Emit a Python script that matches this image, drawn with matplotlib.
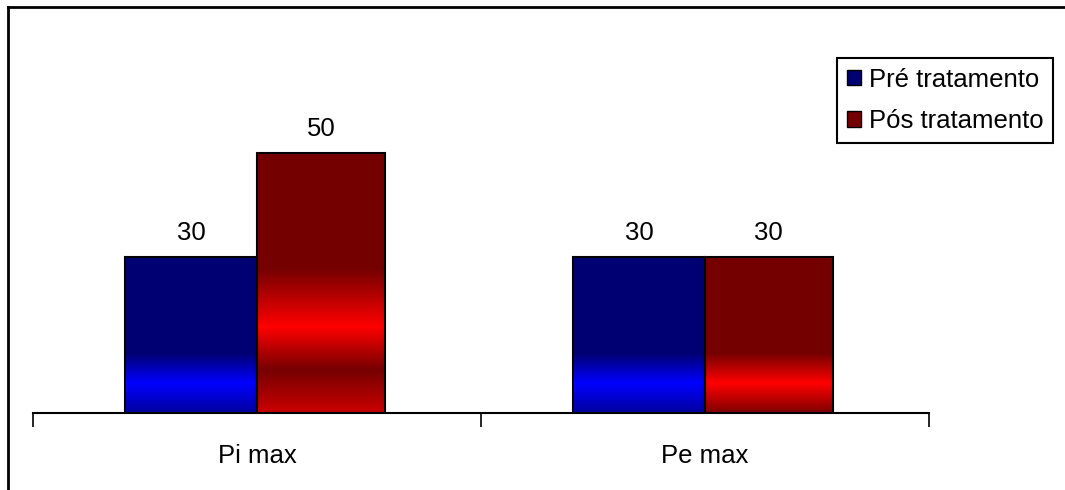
import matplotlib
matplotlib.use("Agg")
import matplotlib.pyplot as plt
import numpy as np
from matplotlib.colors import LinearSegmentedColormap
from matplotlib.patches import Patch
from matplotlib.lines import Line2D

categories = ["Pi max", "Pe max"]
pre_values = [30, 30]
pos_values = [50, 30]
series_names = ["Pré tratamento", "Pós tratamento"]

plt.rcParams['font.family'] = ['Liberation Sans', 'DejaVu Sans']
FS = 18.5

W, H = 1065, 490
fig = plt.figure(figsize=(W / 100, H / 100), dpi=100)
ax_left, ax_right, ax_bottom, ax_top = 33, 929, 413, 101
ax = fig.add_axes([ax_left / W, 1 - ax_bottom / H, (ax_right - ax_left) / W, (ax_bottom - ax_top) / H])
ax.set_xlim(-0.5, len(categories) - 0.5)
ax.set_ylim(0, 60)

dark_blue = (0, 0, 0.45)
bright_blue = (0, 0, 1.0)
dark_red = (0.46, 0, 0)
bright_red = (1.0, 0, 0)

# gradient stops (fraction from top of bar) per series / category
stops = {
    (0, 0): [(0, dark_blue), (0.62, dark_blue), (0.81, bright_blue), (1.0, (0, 0, 0.62))],
    (0, 1): [(0, dark_blue), (0.62, dark_blue), (0.81, bright_blue), (1.0, (0, 0, 0.62))],
    (1, 0): [(0, dark_red), (0.45, dark_red), (0.67, bright_red), (0.835, dark_red), (1.0, (0.8, 0, 0))],
    (1, 1): [(0, dark_red), (0.62, dark_red), (0.81, bright_red), (1.0, (0.5, 0, 0))],
}

widths = [0.295, 0.285]
x = np.arange(len(categories))
for s, vals in enumerate([pre_values, pos_values]):
    w = widths[s]
    offs = -w if s == 0 else 0.0
    bars = ax.bar(x + offs, vals, width=w, align='edge', facecolor='none',
                  edgecolor='black', linewidth=1.5, zorder=3)
    for i, b in enumerate(bars):
        cmap = LinearSegmentedColormap.from_list(f"g{s}{i}", stops[(s, i)])
        grad = np.linspace(0, 1, 256).reshape(-1, 1)
        x0 = b.get_x()
        h = b.get_height()
        im = ax.imshow(grad, cmap=cmap, aspect='auto', origin='upper',
                       extent=(x0, x0 + w, 0, h), zorder=2, interpolation='bilinear')
        im.set_clip_path(b)
        ax.annotate(f"{vals[i]}", (x0 + w / 2, h), xytext=(0, 8.5),
                    textcoords='offset points', ha='center', va='bottom', fontsize=FS)

ax.set_xlim(-0.5, len(categories) - 0.5)
ax.set_ylim(0, 60)

for sp in ['top', 'right', 'left']:
    ax.spines[sp].set_visible(False)
ax.spines['bottom'].set_linewidth(1.5)
ax.set_yticks([])
ax.set_xticks(x)
ax.set_xticklabels(categories, fontsize=FS)
ax.tick_params(axis='x', which='major', length=0, pad=22)
ax.set_xticks(np.arange(-0.5, len(categories)), minor=True)
ax.tick_params(axis='x', which='minor', length=10, width=1.2, direction='out')

handles = [Patch(facecolor=dark_blue, edgecolor='black', linewidth=1.0),
           Patch(facecolor=dark_red, edgecolor='black', linewidth=1.0)]
leg = fig.legend(handles, series_names, loc='upper right',
                 bbox_to_anchor=(1053 / W, 1 - 58 / H), fontsize=FS,
                 frameon=True, fancybox=False, edgecolor='black', framealpha=1,
                 handlelength=0.55, handleheight=0.55, handletextpad=0.3,
                 borderpad=0.38, labelspacing=0.68, borderaxespad=0)
leg.get_frame().set_linewidth(1.5)

# outer chart border (top and left visible)
fig.add_artist(Line2D([8 / W, 1.0], [1 - 7 / H, 1 - 7 / H], transform=fig.transFigure, color='black', lw=2))
fig.add_artist(Line2D([8 / W, 8 / W], [1 - 7 / H, 0], transform=fig.transFigure, color='black', lw=2))

fig.savefig("out.png", dpi=100)
